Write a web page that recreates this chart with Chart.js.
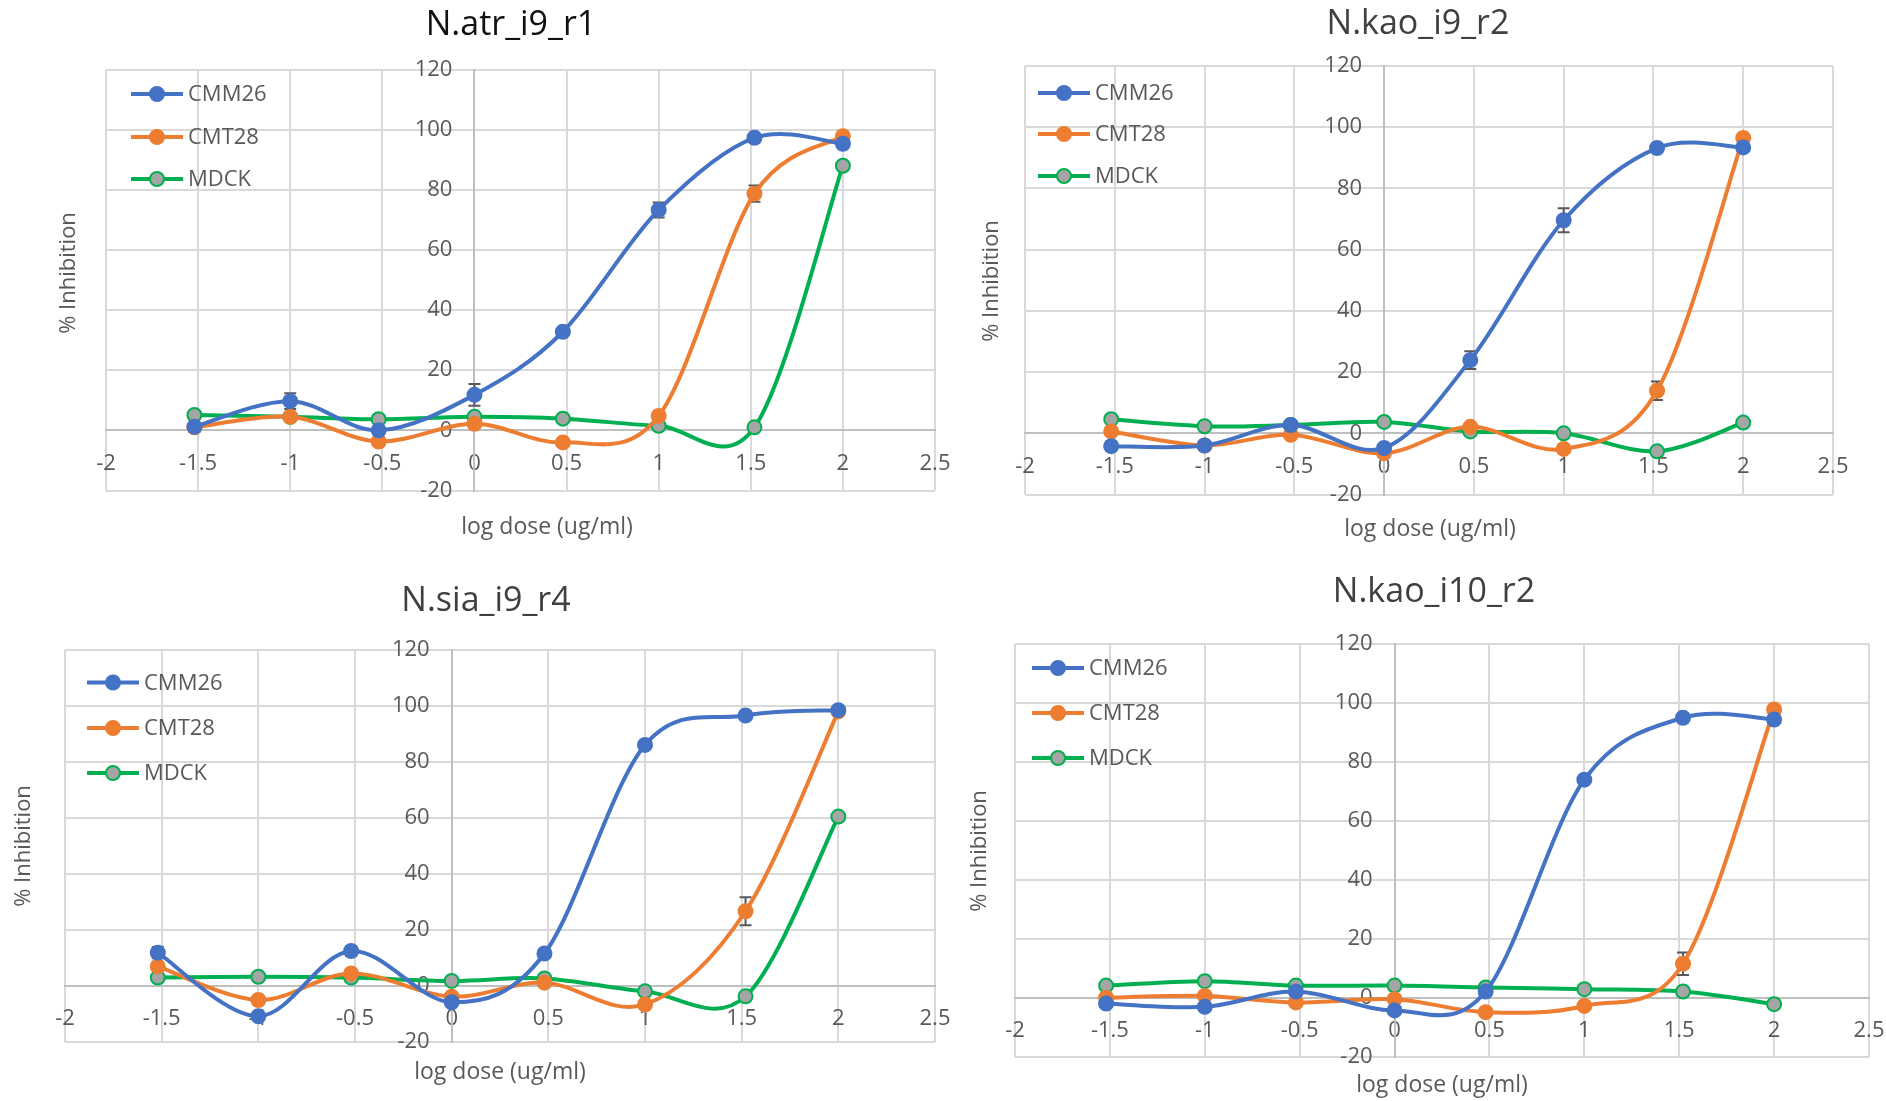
<!DOCTYPE html>
<html><head><meta charset="utf-8">
<script src="https://cdn.jsdelivr.net/npm/chart.js@4.4.1/dist/chart.umd.min.js"></script>
<style>
html,body{margin:0;padding:0;background:#fff;width:1886px;height:1101px;overflow:hidden;}
canvas{position:absolute;left:0;top:0;}
</style></head><body>
<canvas id="c0" width="2100" height="1200" style="width:2100px;height:1200px"></canvas>
<canvas id="c1" width="2100" height="1200" style="width:2100px;height:1200px"></canvas>
<canvas id="c2" width="2100" height="1200" style="width:2100px;height:1200px"></canvas>
<canvas id="c3" width="2100" height="1200" style="width:2100px;height:1200px"></canvas>
<script>
// ---------- DATA ----------
const logDose = [-1.52, -1, -0.52, 0, 0.48, 1, 1.52, 2];
const xTicks = [-2, -1.5, -1, -0.5, 0, 0.5, 1, 1.5, 2, 2.5];
const yTicks = [-20, 0, 20, 40, 60, 80, 100, 120];
const seriesNames = ['CMM26', 'CMT28', 'MDCK'];
const chartTitles = ['N.atr_i9_r1', 'N.kao_i9_r2', 'N.sia_i9_r4', 'N.kao_i10_r2'];
const xAxisTitle = 'log dose (ug/ml)';
const yAxisTitle = '% Inhibition';

// N.atr_i9_r1
const atr_CMM26 = [1.2, 9.7, 0, 11.8, 32.8, 73.3, 97.3, 95.3];
const atr_CMT28 = [1, 4.5, -3.7, 2.2, -4, 4.8, 78.7, 97.8];
const atr_MDCK  = [5.1, 4.5, 3.7, 4.5, 3.9, 1.5, 1, 88];
const atr_CMM26_err = [0, 2.6, 0, 3.6, 0, 2.5, 0, 0];
const atr_CMT28_err = [1.5, 0, 0, 0, 0, 0, 2.7, 0];
const atr_MDCK_err  = [0, 0, 0, 0, 0, 0, 0, 0];

// N.kao_i9_r2
const kao9_CMM26 = [-4.2, -4, 2.7, -4.8, 23.9, 69.6, 93.2, 93.4];
const kao9_CMT28 = [0.6, -4, -0.5, -6.5, 2.1, -5.1, 13.9, 96.5];
const kao9_MDCK  = [4.6, 2.3, 2.7, 3.7, 0.6, 0, -5.9, 3.5];
const kao9_CMM26_err = [1.5, 0, 0, 0, 2.9, 3.9, 0, 0];
const kao9_CMT28_err = [0, 0, 0, 0, 0, 0, 3, 0];
const kao9_MDCK_err  = [0, 0, 0, 0, 0, 0, 0, 0];

// N.sia_i9_r4
const sia_CMM26 = [11.9, -10.8, 12.5, -5.8, 11.6, 86.1, 96.6, 98.5];
const sia_CMT28 = [7, -5, 4.5, -3.8, 1.2, -6.6, 26.7, 98.1];
const sia_MDCK  = [3, 3.3, 3, 1.8, 2.7, -1.9, -3.7, 60.5];
const sia_CMM26_err = [2, 0, 1.8, 0, 0, 0, 0, 0];
const sia_CMT28_err = [0, 0, 0, 0, 0, 0, 5, 0];
const sia_MDCK_err  = [0, 0, 0, 0, 0, 0, 0, 0];

// N.kao_i10_r2
const kao10_CMM26 = [-1.9, -3, 2.2, -4.2, 2.2, 74, 95, 94.4];
const kao10_CMT28 = [0.1, 0.7, -1.5, -0.4, -4.8, -2.7, 11.6, 97.8];
const kao10_MDCK  = [4.2, 5.7, 4.2, 4.2, 3.6, 3, 2.2, -2.1];
const kao10_CMM26_err = [0, 1, 0, 0, 0, 0, 0, 0];
const kao10_CMT28_err = [0, 0, 0, 0, 0, 0, 3.8, 0];
const kao10_MDCK_err  = [0, 0, 0, 0, 0, 0, 0, 1.5];

const chartValues = [
  [atr_CMM26, atr_CMT28, atr_MDCK],
  [kao9_CMM26, kao9_CMT28, kao9_MDCK],
  [sia_CMM26, sia_CMT28, sia_MDCK],
  [kao10_CMM26, kao10_CMT28, kao10_MDCK]
];
const chartErrors = [
  [atr_CMM26_err, atr_CMT28_err, atr_MDCK_err],
  [kao9_CMM26_err, kao9_CMT28_err, kao9_MDCK_err],
  [sia_CMM26_err, sia_CMT28_err, sia_MDCK_err],
  [kao10_CMM26_err, kao10_CMT28_err, kao10_MDCK_err]
];

// ---------- STYLE / LAYOUT ----------
const CW = 2100, CH = 1200;
const FONT = "'Open Sans', 'DejaVu Sans', sans-serif";
const TXT = '#595959';
const Y_LABEL_GAP = 22;
const seriesStyles = [
  {line: '#4472C4', fill: '#4472C4'},
  {line: '#ED7D31', fill: '#ED7D31'},
  {line: '#00B050', fill: '#A5A5A5'}
];
const layouts = [
  {plot: [106, 69.5, 935, 490.5], title: [511, 25], titleColor: '#111', yTitle: [69, 273], xTitle: [547, 527], legX: 25, legY: [24.5, 67.5, 109.5]},
  {plot: [1025, 66, 1833, 494.5], title: [1418, 24], titleColor: '#404040', yTitle: [992, 281], xTitle: [1430, 529], legX: 13, legY: [27, 68, 110]},
  {plot: [65, 650, 935, 1042], title: [486, 601], titleColor: '#404040', yTitle: [24, 846], xTitle: [500, 1072], legX: 22, legY: [32.5, 78, 123]},
  {plot: [1015, 644, 1869, 1057], title: [1434, 592], titleColor: '#404040', yTitle: [980, 851], xTitle: [1442, 1085], legX: 17, legY: [24, 69, 114]}
];

const decor = {
  id: 'decor',
  beforeDraw(chart) {
    // keep the y tick labels a little to the left of the crossing axis line
    const sc = chart.scales.y;
    if (sc && typeof sc.getLabelItems === 'function') {
      const items = sc.getLabelItems(chart.chartArea);
      if (!sc._gapApplied) {
        items.forEach(it => { if (it.options && it.options.translation) it.options.translation[0] -= Y_LABEL_GAP; });
        sc._gapApplied = true;
      }
    }
  },
  beforeDatasetsDraw(chart) {
    // Excel-like smoothing: uniform Catmull-Rom control points from library pixel positions
    chart.getSortedVisibleDatasetMetas().forEach(meta => {
      const line = meta.dataset;
      if (!line) return;
      line.updateControlPoints(chart.chartArea, meta.indexAxis);
      const pts = meta.data;
      for (let i = 0; i < pts.length; i++) {
        const p = pts[i], a = pts[i - 1] || p, b = pts[i + 1] || p;
        const dx = (b.x - a.x) / 6, dy = (b.y - a.y) / 6;
        p.cp1x = p.x - dx; p.cp1y = p.y - dy;
        p.cp2x = p.x + dx; p.cp2y = p.y + dy;
      }
    });
    // error bars
    const ctx = chart.ctx, ys = chart.scales.y;
    ctx.save();
    ctx.strokeStyle = '#595959';
    ctx.lineWidth = 2;
    chart.data.datasets.forEach((ds, di) => {
      const meta = chart.getDatasetMeta(di);
      (ds.errors || []).forEach((e, i) => {
        if (!e) return;
        const p = meta.data[i];
        const v = ds.data[i].y;
        const y1 = ys.getPixelForValue(v + e), y2 = ys.getPixelForValue(v - e);
        ctx.beginPath();
        ctx.moveTo(p.x, y1); ctx.lineTo(p.x, y2);
        ctx.moveTo(p.x - 6, y1); ctx.lineTo(p.x + 6, y1);
        ctx.moveTo(p.x - 6, y2); ctx.lineTo(p.x + 6, y2);
        ctx.stroke();
      });
    });
    ctx.restore();
  },
  afterDraw(chart) {
    const o = chart.options.plugins.decor;
    const ctx = chart.ctx, area = chart.chartArea;
    ctx.save();
    // title
    ctx.fillStyle = o.titleColor;
    ctx.font = "34px " + FONT;
    ctx.textAlign = 'center';
    ctx.textBaseline = 'middle';
    ctx.fillText(o.titleText, o.title[0], o.title[1]);
    // x axis title
    ctx.fillStyle = TXT;
    ctx.font = "23px " + FONT;
    ctx.fillText(xAxisTitle, o.xTitle[0], o.xTitle[1]);
    // y axis title
    ctx.save();
    ctx.translate(o.yTitle[0], o.yTitle[1]);
    ctx.rotate(-Math.PI / 2);
    ctx.font = "22px " + FONT;
    ctx.fillText(yAxisTitle, 0, 0);
    ctx.restore();
    // legend
    chart.data.datasets.forEach((ds, i) => {
      const x0 = area.left + o.legX, y0 = area.top + o.legY[i];
      ctx.strokeStyle = ds.borderColor;
      ctx.lineWidth = 4;
      ctx.beginPath(); ctx.moveTo(x0, y0); ctx.lineTo(x0 + 52, y0); ctx.stroke();
      ctx.beginPath(); ctx.arc(x0 + 26, y0, 7, 0, Math.PI * 2);
      ctx.fillStyle = ds.pointBackgroundColor; ctx.fill();
      ctx.lineWidth = 2; ctx.strokeStyle = ds.pointBorderColor; ctx.stroke();
      ctx.fillStyle = TXT;
      ctx.font = "22px " + FONT;
      ctx.textAlign = 'left';
      ctx.textBaseline = 'middle';
      ctx.fillText(ds.label, x0 + 57, y0 + 1);
    });
    ctx.restore();
  }
};

function makeChart(idx) {
  const L = layouts[idx];
  const datasets = seriesNames.map((name, s) => ({
    label: name,
    data: logDose.map((x, i) => ({x: x, y: chartValues[idx][s][i]})),
    errors: chartErrors[idx][s],
    borderColor: seriesStyles[s].line,
    backgroundColor: seriesStyles[s].fill,
    pointBackgroundColor: seriesStyles[s].fill,
    pointBorderColor: seriesStyles[s].line,
    pointBorderWidth: 2,
    pointRadius: 7,
    borderWidth: 4,
    tension: 0.33,
    showLine: true,
    fill: false
  }));
  const gridOpts = {color: '#d9d9d9', lineWidth: 2, drawTicks: false};
  const tickFont = {family: FONT, size: 22};
  return new Chart(document.getElementById('c' + idx), {
    type: 'scatter',
    data: {datasets},
    options: {
      responsive: false,
      devicePixelRatio: 1,
      animation: false,
      events: [],
      layout: {padding: {left: L.plot[0], top: L.plot[1], right: CW - L.plot[2], bottom: CH - L.plot[3]}},
      scales: {
        x: {
          type: 'linear', min: -2, max: 2.5, position: {y: 0},
          afterBuildTicks: sc => { sc.ticks = xTicks.map(v => ({value: v})); },
          ticks: {font: tickFont, color: TXT, padding: 20, maxRotation: 0, autoSkip: false, callback: v => String(v)},
          grid: gridOpts,
          border: {display: true, color: '#bfbfbf', width: 2}
        },
        y: {
          type: 'linear', min: -20, max: 120, position: {x: 0},
          afterBuildTicks: sc => { sc.ticks = yTicks.map(v => ({value: v})); },
          afterUpdate: sc => { sc._gapApplied = false; },
          ticks: {font: tickFont, color: TXT, padding: 22, autoSkip: false, callback: v => String(v)},
          grid: gridOpts,
          border: {display: true, color: '#bfbfbf', width: 2}
        }
      },
      plugins: {
        legend: {display: false},
        tooltip: {enabled: false},
        title: {display: false},
        decor: Object.assign({titleText: chartTitles[idx]}, L)
      }
    },
    plugins: [decor]
  });
}
[0, 1, 2, 3].forEach(makeChart);
</script>
</body></html>
